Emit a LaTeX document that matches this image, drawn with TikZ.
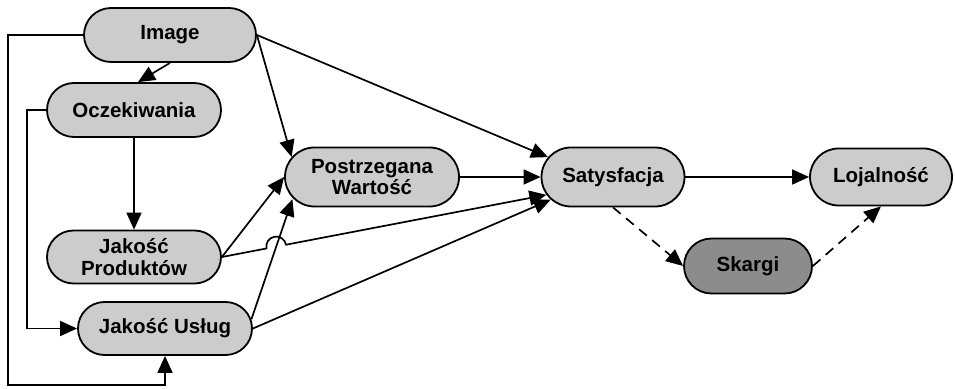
\documentclass[tikz,border=0pt]{standalone}
\usepackage{fontspec}
\setmainfont{Liberation Sans}
\usetikzlibrary{shapes.misc,arrows.meta,intersections,calc}
\definecolor{boxlight}{RGB}{204,204,204}
\definecolor{boxdark}{RGB}{140,140,140}
\begin{document}
\begin{tikzpicture}[x=1pt,y=1pt,
  box/.style={rounded rectangle, draw=black, line width=1.8pt, fill=boxlight,
    font=\fontsize{20.5}{21.5}\selectfont\bfseries, align=center, inner sep=2pt},
  conn/.style={line width=1.7pt, -{Triangle[length=17pt,width=15pt]}},
  dconn/.style={conn, dash pattern=on 10pt off 7pt}]
\useasboundingbox (0,0) rectangle (955,388);
\node[box, minimum width=176pt, minimum height=54pt] (img) at (170,353) {Image};
\node[box, minimum width=178pt, minimum height=54pt] (ocz) at (134,278) {Oczekiwania};
\node[box, minimum width=178pt, minimum height=53pt] (jp) at (134,131) {Jakość\\Produktów};
\node[box, minimum width=178pt, minimum height=53pt] (ju) at (165,59.5) {Jakość Usług};
\node[box, minimum width=178pt, minimum height=59pt] (pw) at (372,211) {Postrzegana\\Wartość};
\node[box, minimum width=147pt, minimum height=59pt] (sat) at (613,211) {Satysfacja};
\node[box, minimum width=146pt, minimum height=57pt] (loj) at (881,211) {Lojalność};
\node[box, fill=boxdark, minimum width=132pt, minimum height=55pt] (sk) at (748,122) {Skargi};
\coordinate (lpb) at (8,3);
% left loops
\draw[conn] (img.west) -| (lpb) -| (ju.south);
\draw[conn] (ocz.west) -| ($(ju.west)+(-50,0)$) -- (ju.west);
% verticals
\draw[conn] (img.south) -- ([xshift=4pt]ocz.north);
\draw[conn] (ocz.south) -- (jp.north);
% into Postrzegana Wartosc
\draw[conn] (img.east) -- (pw.166);
\draw[conn] (jp.east) -- (pw.west);
\draw[conn, name path=ujp, shorten >=1pt] (ju.6) -- (pw.195);
% into Satysfakcja
\draw[conn] (img.east) -- (sat.163);
\draw[conn] (pw.east) -- (sat.west);
\draw[conn] (ju.east) -- (sat.200);
\path[name path=pjs] (jp.east) -- (sat.195);
\path[name intersections={of=ujp and pjs, by=X}];
\draw[conn] let \p1=($(sat.195)-(jp.east)$), \n1={atan2(\y1,\x1)} in
  (jp.east) -- ($(X)!10pt!(jp.east)$) arc[start angle=\n1+180, end angle=\n1, radius=10pt] -- (sat.195);
% right part
\draw[conn] (sat.east) -- (loj.west);
\draw[dconn] (sat.south) -- (sk.west);
\draw[dconn] (sk.east) -- (loj.south);
\end{tikzpicture}
\end{document}
